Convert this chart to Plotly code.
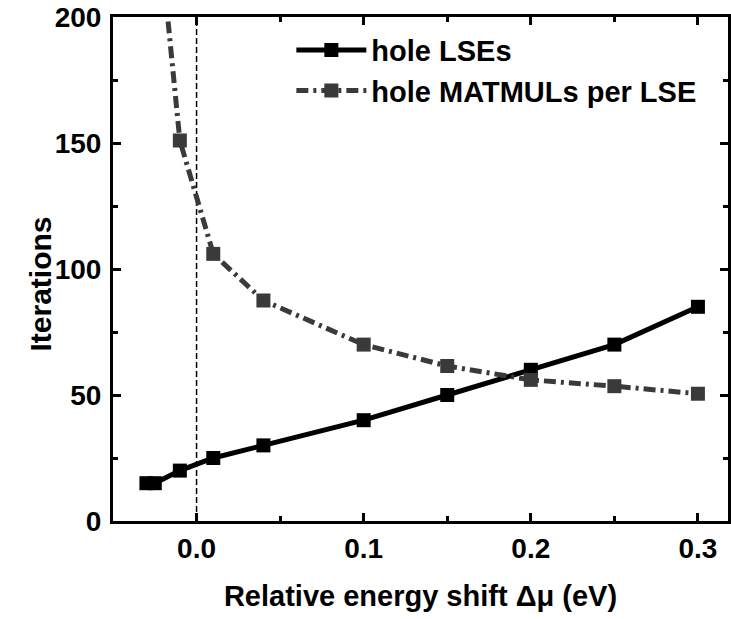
import plotly.graph_objects as go

# Data
lse_x = [-0.03, -0.025, -0.01, 0.01, 0.04, 0.10, 0.15, 0.20, 0.25, 0.30]
lse_y = [15, 15, 20, 25, 30, 40, 50, 60, 70, 85]

matmul_x = [-0.02, -0.01, 0.01, 0.04, 0.10, 0.15, 0.20, 0.25, 0.30]
matmul_y = [218, 151, 106, 87.5, 70, 61.5, 56, 53.5, 50.5]

ref_x = 0.0
x_ticks = [0.0, 0.1, 0.2, 0.3]
x_tick_text = ["0.0", "0.1", "0.2", "0.3"]
y_ticks = [0, 50, 100, 150, 200]

FONT = "Liberation Sans, Arial, sans-serif"

fig = go.Figure()
fig.add_trace(go.Scatter(
    x=lse_x, y=lse_y, mode="lines+markers", name="<b>hole LSEs</b>",
    line=dict(color="#000000", width=5),
    marker=dict(symbol="square", size=14, color="#000000"),
    legendrank=1,
))
fig.add_trace(go.Scatter(
    x=matmul_x, y=matmul_y, mode="lines+markers", name="<b>hole MATMULs per LSE</b>",
    line=dict(color="#3a3a3a", width=5, dash="12px,5px,3px,5px"),
    marker=dict(symbol="square", size=14, color="#3a3a3a"),
    legendrank=2,
))

fig.add_shape(type="line", x0=ref_x, x1=ref_x, y0=0, y1=200, xref="x", yref="y",
              line=dict(color="#000000", width=1.5, dash="6px,3px"), layer="below")

axis_common = dict(
    showline=True, linewidth=3, linecolor="#000000", mirror="ticks",
    ticks="inside", ticklen=8, tickwidth=3, tickcolor="#000000",
    showgrid=False, zeroline=False,
    tickfont=dict(family=FONT, size=28, color="#000000", weight="bold"),
)

fig.update_layout(
    width=731, height=619,
    margin=dict(l=113, r=0, t=17, b=98),
    paper_bgcolor="white", plot_bgcolor="white",
    font=dict(family=FONT, color="#000000"),
    xaxis=dict(
        range=[-0.05, 0.318], tickvals=x_ticks, ticktext=x_tick_text,
        minor=dict(ticks="inside", ticklen=5, tickwidth=3, dtick=0.05, tick0=0, tickcolor="#000000"),
        title=dict(text="<b>Relative energy shift Δμ (eV)</b>",
                   font=dict(family=FONT, size=29, color="#000000"), standoff=24),
        **axis_common,
    ),
    yaxis=dict(
        range=[0, 200], tickvals=y_ticks, ticklabelstandoff=3,
        minor=dict(ticks="inside", ticklen=5, tickwidth=3, dtick=25, tick0=0, tickcolor="#000000"),
        **axis_common,
    ),
    legend=dict(
        x=0.29, y=0.985, xanchor="left", yanchor="top",
        bgcolor="rgba(0,0,0,0)", borderwidth=0,
        font=dict(family=FONT, size=29, color="#000000"),
        itemwidth=70, tracegroupgap=0,
    ),
    showlegend=True,
    annotations=[dict(
        text="<b>Iterations</b>", textangle=-90, xref="paper", yref="paper",
        x=-0.118, y=0.47, xanchor="center", yanchor="middle", showarrow=False,
        font=dict(family=FONT, size=30, color="#000000"),
    )],
)

fig.write_html("out.html")
